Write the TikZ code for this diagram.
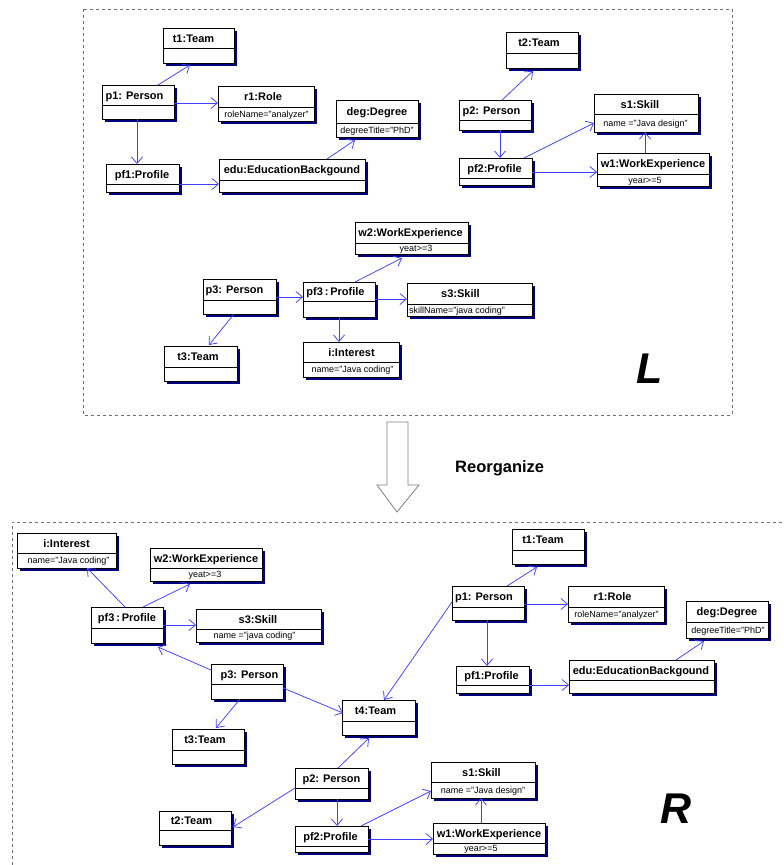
\documentclass[tikz,border=0pt]{standalone}
\usepackage{fontspec}
\setmainfont{Liberation Sans}
\usetikzlibrary{arrows.meta}
\definecolor{assoccol}{RGB}{64,64,255}
\definecolor{shadowcol}{RGB}{0,0,128}
\definecolor{framecol}{RGB}{110,110,110}
\definecolor{bigarrowcol}{RGB}{128,128,128}
\tikzset{
  objrect/.style={draw=black, fill=white, line width=0.9pt, inner sep=0pt, outer sep=0pt, rectangle},
  assoc/.style={draw=assoccol, line width=0.75pt, -{Straight Barb[length=6.5pt,width=11pt,line width=0.75pt]}},
  ttl/.style={font=\fontsize{11}{13}\selectfont\bfseries, inner sep=0pt, text height=8pt, text depth=0pt},
  attr/.style={font=\fontsize{9}{11}\selectfont, inner sep=0pt, text height=6.5pt, text depth=0pt},
  framebox/.style={draw=framecol, line width=0.8pt, dash pattern=on 3pt off 3pt},
  biglabel/.style={font=\fontsize{43}{48}\selectfont\bfseries\itshape, inner sep=0pt, anchor=base},
}
% name, x1, y1, x2, y2, ysep, title centre x, title
\newcommand\umlobj[8]{%
  \fill[shadowcol] ({#2+3},{#3+3}) rectangle ({#4+3},{#5+3});
  \node[objrect, anchor=north west, minimum width={(#4-#2)*1pt}, minimum height={(#5-#3)*1pt}] (#1) at (#2,#3) {};
  \draw[line width=0.6pt] (#2,#6) -- (#4,#6);
  \node[ttl] (#1-t) at (#7,{(#3+#6)/2}) {#8};
}
\begin{document}
\begin{tikzpicture}[x=1pt,y=-1pt]
\useasboundingbox (0,0) rectangle (784,865);
\fill[white] (0,0) rectangle (784,865);

% frames
\draw[framebox] (83,9) rectangle (732,415);
\draw[framebox] (12,865) -- (12,522) -- (784,522);

% ---------- L ----------
\umlobj{t1}{163}{28}{234}{63}{48}{193.5}{t1:Team}
\umlobj{p1}{102}{85}{174}{119}{105}{134.5}{p1: Person}
\umlobj{r1}{218}{86}{314}{121}{107}{263}{r1:Role}
\node[attr] (r1-a) at (266.5,114) {roleName="analyzer"};
\umlobj{deg}{336}{100}{418}{137}{123}{377}{deg:Degree}
\node[attr] (deg-a) at (377,130) {degreeTitle="PhD"};
\umlobj{pf1}{106}{164}{179}{192}{184}{142}{pf1:Profile}
\umlobj{edu}{219}{159}{365}{192}{180}{292}{edu:EducationBackgound}
\umlobj{t2}{506}{32}{578}{68}{53}{539}{t2:Team}
\umlobj{p2}{459}{100}{531}{130}{120}{491.5}{p2: Person}
\umlobj{s1}{594}{94}{698}{132}{114}{640}{s1:Skill}
\node[attr] (s1-a) at (645.5,123) {name ="Java design"};
\umlobj{pf2}{459}{158}{532}{185}{178}{494.5}{pf2:Profile}
\umlobj{w1}{597}{153}{709}{186}{174}{653}{w1:WorkExperience}
\node[attr] (w1-a) at (645,180) {year>=5};
\umlobj{w2}{355}{222}{468}{254}{243}{410.5}{w2:WorkExperience}
\node[attr] (w2-a) at (416,248.5) {yeat>=3};
\umlobj{p3}{203}{279}{276}{314}{300}{234.5}{p3: Person}
\umlobj{pf3}{303}{282}{375}{317}{301}{335.5}{pf3\,:\,Profile}
\umlobj{s3}{407}{283}{532}{316}{304}{460.5}{s3:Skill}
\node[attr, anchor=west] (s3-a) at (409,310) {skillName="java coding"};
\umlobj{t3}{164}{346}{237}{381}{367}{198}{t3:Team}
\umlobj{i}{303}{342}{399}{377}{362}{351.5}{i:Interest}
\node[attr] (i-a) at (352.5,369.5) {name="Java coding"};

\draw[assoc] ([shift={(56,0)}]p1.north west) -- ([shift={(27,2)}]t1.south west);
\draw[assoc] ([shift={(0,18)}]p1.north east) -- ([shift={(0,17)}]r1.north west);
\draw[assoc] ([shift={(35,0)}]p1.south west) -- ([shift={(31,0)}]pf1.north west);
\draw[assoc] ([shift={(0,20)}]pf1.north east) -- ([shift={(0,25)}]edu.north west);
\draw[assoc] ([shift={(108,0)}]edu.north west) -- ([shift={(19,3)}]deg.south west);
\draw[assoc] ([shift={(43,0)}]p2.north west) -- ([shift={(27,3)}]t2.south west);
\draw[assoc] ([shift={(41,0)}]p2.south west) -- ([shift={(41,0)}]pf2.north west);
\draw[assoc] ([shift={(65,0)}]pf2.north west) -- ([shift={(0,29)}]s1.north west);
\draw[assoc] ([shift={(0,14)}]pf2.north east) -- ([shift={(0,19)}]w1.north west);
\draw[assoc] ([shift={(48,0)}]w1.north west) -- ([shift={(51,0)}]s1.south west);
\draw[assoc] ([shift={(0,18)}]p3.north east) -- ([shift={(0,15)}]pf3.north west);
\draw[assoc] ([shift={(31,0)}]p3.south west) -- ([shift={(45,-1)}]t3.north west);
\draw[assoc] ([shift={(52,0)}]pf3.north west) -- ([shift={(47,4)}]w2.south west);
\draw[assoc] ([shift={(0,17)}]pf3.north east) -- ([shift={(0,16)}]s3.north west);
\draw[assoc] ([shift={(36,0)}]pf3.south west) -- ([shift={(36,0)}]i.north west);

\node[biglabel] (labL) at (650,383) {L};

% ---------- transition ----------
\draw[draw=bigarrowcol, fill=white, line width=0.8pt, line join=miter]
  (387,422) -- (408,422) -- (408,485) -- (419,485) -- (397,512) -- (377,485) -- (387,485) -- cycle;
\node[font=\fontsize{16.5}{20}\selectfont\bfseries, inner sep=0pt, anchor=base west] (reorg) at (455,472) {Reorganize};

% ---------- R ----------
\umlobj{ib}{17}{533}{116}{568}{553}{66.5}{i:Interest}
\node[attr] (ib-a) at (68.5,560.5) {name="Java coding"};
\umlobj{w2b}{150}{548}{262}{581}{568}{206}{w2:WorkExperience}
\node[attr] (w2b-a) at (205,574.5) {yeat>=3};
\umlobj{pf3b}{91}{607}{163}{643}{628}{127}{pf3\,:\,Profile}
\umlobj{s3b}{196}{609}{321}{642}{629}{258}{s3:Skill}
\node[attr] (s3b-a) at (254.5,635.5) {name ="java coding"};
\umlobj{p3b}{211}{664}{283}{699}{684}{249.5}{p3: Person}
\umlobj{t4}{342}{700}{415}{735}{721}{375.5}{t4:Team}
\umlobj{t3b}{172}{729}{244}{764}{750}{205}{t3:Team}
\umlobj{p2b}{295}{768}{368}{799}{788}{331.5}{p2: Person}
\umlobj{t2b}{159}{811}{231}{845}{830}{191.5}{t2:Team}
\umlobj{pf2b}{295}{826}{368}{852}{846}{330.5}{pf2:Profile}
\umlobj{s1b}{431}{762}{535}{798}{782}{481.5}{s1:Skill}
\node[attr] (s1b-a) at (483,790) {name ="Java design"};
\umlobj{w1b}{433}{823}{545}{854}{843}{489}{w1:WorkExperience}
\node[attr] (w1b-a) at (481,848.5) {year>=5};
\umlobj{t1b}{512}{529}{584}{564}{550}{543}{t1:Team}
\umlobj{p1b}{452}{586}{524}{620}{607}{484}{p1: Person}
\umlobj{r1b}{568}{586}{664}{622}{607}{612.5}{r1:Role}
\node[attr] (r1b-a) at (616.5,614.5) {roleName="analyzer"};
\umlobj{degb}{686}{601}{768}{638}{622}{727}{deg:Degree}
\node[attr] (degb-a) at (728,630) {degreeTitle="PhD"};
\umlobj{pf1b}{456}{666}{529}{693}{685}{491.5}{pf1:Profile}
\umlobj{edub}{569}{660}{714}{693}{680}{641}{edu:EducationBackgound}

\draw[assoc] ([shift={(34,0)}]pf3b.north west) -- ([shift={(70,0)}]ib.south west);
\draw[assoc] ([shift={(52,0)}]pf3b.north west) -- ([shift={(40,3)}]w2b.south west);
\draw[assoc] ([shift={(0,18)}]pf3b.north east) -- ([shift={(0,16)}]s3b.north west);
\draw[assoc] ([shift={(0,6)}]p3b.north west) -- ([shift={(67,4)}]pf3b.south west);
\draw[assoc] ([shift={(0,24)}]p3b.north east) -- ([shift={(1,13)}]t4.north west);
\draw[assoc] ([shift={(0,16)}]p1b.north west) -- ([shift={(42,0)}]t4.north west);
\draw[assoc] ([shift={(55,0)}]p1b.north west) -- ([shift={(25,3)}]t1b.south west);
\draw[assoc] ([shift={(0,18)}]p1b.north east) -- ([shift={(0,18)}]r1b.north west);
\draw[assoc] ([shift={(35,0)}]p1b.south west) -- ([shift={(31,0)}]pf1b.north west);
\draw[assoc] ([shift={(0,19)}]pf1b.north east) -- ([shift={(0,25)}]edub.north west);
\draw[assoc] ([shift={(107,0)}]edub.north west) -- ([shift={(18,3)}]degb.south west);
\draw[assoc] ([shift={(29,0)}]p3b.south west) -- ([shift={(44,-1)}]t3b.north west);
\draw[assoc] ([shift={(43,0)}]p2b.north west) -- ([shift={(27,3)}]t4.south west);
\draw[assoc] ([shift={(0,20)}]p2b.north west) -- ([shift={(2,16)}]t2b.north east);
\draw[assoc] ([shift={(42,0)}]p2b.south west) -- ([shift={(42,0)}]pf2b.north west);
\draw[assoc] ([shift={(66,0)}]pf2b.north west) -- ([shift={(0,29)}]s1b.north west);
\draw[assoc] ([shift={(0,13)}]pf2b.north east) -- ([shift={(0,16)}]w1b.north west);
\draw[assoc] ([shift={(48,0)}]w1b.north west) -- ([shift={(50,0)}]s1b.south west);

\node[biglabel] (labR) at (676,823) {R};
\end{tikzpicture}
\end{document}
